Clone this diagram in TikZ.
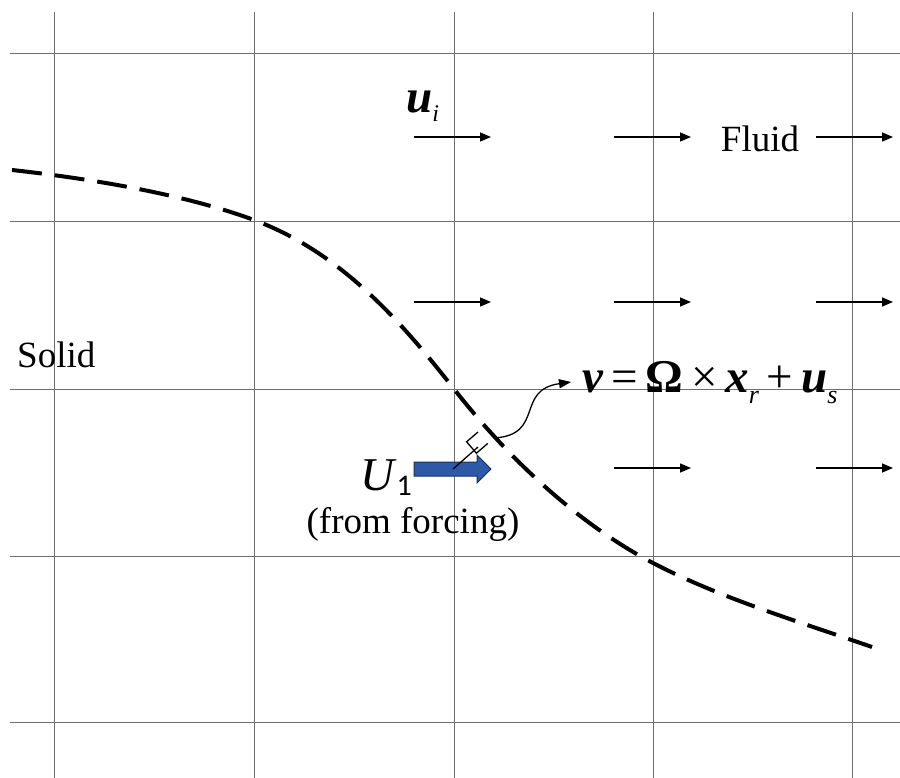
\documentclass[tikz,border=0pt]{standalone}
\usepackage{fontspec}
\setmainfont{Liberation Serif}
\newfontfamily\subfont{Carlito}
\usetikzlibrary{arrows.meta}
\definecolor{gridcol}{RGB}{110,110,110}
\definecolor{forceblue}{RGB}{44,90,168}
\definecolor{forceedge}{RGB}{25,45,95}
\begin{document}
\begin{tikzpicture}[x=1pt,y=-1pt,
  gridline/.style={draw=gridcol,line width=1pt},
  flow/.style={line width=1.5pt,-{Triangle[length=11pt,width=9pt]}},
  lbl/.style={inner sep=0pt,font=\fontsize{37}{44}\selectfont},
  mathlbl/.style={inner sep=0pt,font=\fontsize{47}{52}\selectfont},
  boundary/.style={line width=4pt,dash pattern=on 30pt off 13pt},
  thin/.style={line width=1.3pt}]
\useasboundingbox (0,0) rectangle (900,778);
% grid
\foreach \x in {54,254,454,653,852} \draw[gridline] (\x,12) -- (\x,778);
\foreach \y in {54,222,389,556,722} \draw[gridline] (10,\y) -- (900,\y);
% flow arrows
\foreach \y/\xs in {137/{414,614,816},302/{414,614,816},468/{614,816}}{
  \foreach \x in \xs { \draw[flow] (\x,\y) -- ++(77,0); }
}
% solid boundary
\draw[boundary] (12,170) .. controls (120,182) and (200,200) .. (254,220)
  .. controls (340,252) and (400,320) .. (454,389)
  .. controls (520,473) and (590,530) .. (653,563)
  .. controls (720,598) and (800,622) .. (872,647);
% labels
\node[lbl,anchor=base west] (solid) at (17,367) {Solid};
\node[lbl,anchor=base] (fluid) at (760,152) {Fluid};
\node[lbl,anchor=base] (forcing) at (413,533) {(from forcing)};
\node[mathlbl,anchor=base west] (ui) at (406,113) {\textbf{\textit{u}}\raisebox{-9pt}{\fontsize{24}{24}\selectfont\textit{i}}};
\node[mathlbl,anchor=base west] (eq) at (582,392) {\textbf{\textit{v}}\,=\,\textbf{Ω}\,×\,\textbf{\textit{x}}\raisebox{-11pt}{\fontsize{26}{26}\selectfont\textit{r}}\,+\,\textbf{\textit{u}}\raisebox{-11pt}{\fontsize{26}{26}\selectfont\textit{s}}};
\node[mathlbl,anchor=base west] (U1) at (360,490) {\textit{U}\raisebox{-5pt}{\subfont\fontsize{30}{30}\selectfont 1}};
% forcing arrow
\filldraw[fill=forceblue,draw=forceedge,line width=1pt]
  (414,462) -- (477,462) -- (477,455) -- (491,469) -- (477,483) -- (477,476) -- (414,476) -- cycle;
% right angle marker
\coordinate (p1) at (478,432);
\coordinate (p2) at (487.8,443.4);
\coordinate (p3) at (476.4,453.2);
\coordinate (p4) at (466.6,441.8);
\draw[thin] (p1) -- (p4) -- (p3) -- (p2);
\coordinate (fstart) at (453,469);
\coordinate (fend) at (478,447);
\draw[thin] (fstart) -- (fend);
% curved pointer to equation
\coordinate (cstart) at (494,438);
\coordinate (cend) at (571,382);
\draw[thin,-{Triangle[length=12pt,width=9pt]}] (cstart) .. controls (545,435) and (515,390) .. (cend);
\end{tikzpicture}
\end{document}
